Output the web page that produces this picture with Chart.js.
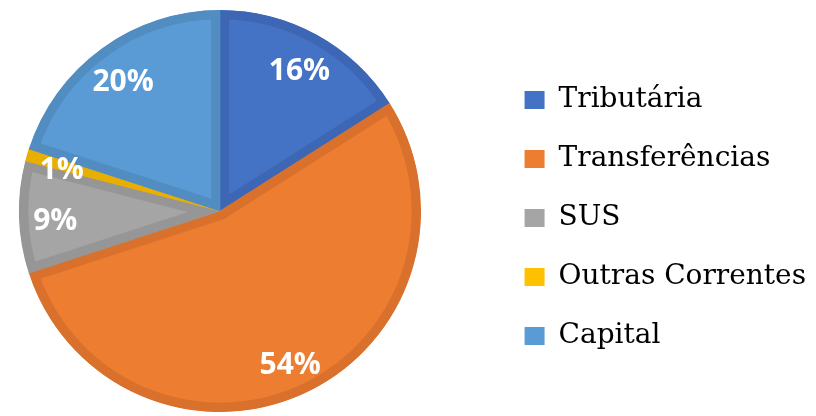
<!DOCTYPE html>
<html>
<head>
<meta charset="utf-8">
<script src="https://cdn.jsdelivr.net/npm/chart.js@4.4.1/dist/chart.umd.min.js"></script>
<style>
  html, body { margin: 0; padding: 0; background: #ffffff; }
  #wrap { width: 816px; height: 416px; }
</style>
</head>
<body>
<div id="wrap"><canvas id="receitaChart"></canvas></div>
<script>
const categories = ["Tributária", "Transferências", "SUS", "Outras Correntes", "Capital"];
const shares = [16, 54, 9, 1, 20];
const fillColors = ["#4472C4", "#ED7D31", "#A5A5A5", "#FFC000", "#5B9BD5"];
const edgeColors = ["#3D67B4", "#D9712C", "#969696", "#E8AE00", "#528DC2"];

// the legend on the right would push the pie to the middle of what is left,
// so the pie gets its own box on the left side
const pieBox = { left: 17, top: 10, right: 423, bottom: 412 };

const pieArea = {
  id: "pieArea",
  afterLayout(chart) {
    Object.assign(chart.chartArea, pieBox, {
      width: pieBox.right - pieBox.left,
      height: pieBox.bottom - pieBox.top
    });
  }
};

const sliceLabels = {
  id: "sliceLabels",
  afterDatasetsDraw(chart) {
    const { ctx } = chart;
    const meta = chart.getDatasetMeta(0);
    ctx.save();
    ctx.font = 'bold 30px "Open Sans", sans-serif';
    ctx.fillStyle = "#ffffff";
    ctx.textAlign = "center";
    ctx.textBaseline = "middle";
    meta.data.forEach((arc, i) => {
      const { x, y, startAngle, endAngle, outerRadius } = arc.getProps(
        ["x", "y", "startAngle", "endAngle", "outerRadius"],
        true
      );
      const mid = (startAngle + endAngle) / 2;
      const r = outerRadius * 0.82;
      ctx.fillText(`${shares[i]}%`, x + Math.cos(mid) * r, y + Math.sin(mid) * r + 5);
    });
    ctx.restore();
  }
};

new Chart(document.getElementById("receitaChart").getContext("2d"), {
  type: "pie",
  data: {
    labels: categories,
    datasets: [
      {
        data: shares,
        backgroundColor: fillColors,
        borderColor: edgeColors,
        borderWidth: 9,
        borderAlign: "inner"
      }
    ]
  },
  options: {
    responsive: true,
    maintainAspectRatio: false,
    animation: false,
    layout: { padding: { top: 21, bottom: 1, left: 0, right: 0 } },
    plugins: {
      tooltip: { enabled: false },
      legend: {
        position: "right",
        align: "center",
        labels: {
          boxWidth: 20,
          boxHeight: 18,
          padding: 31,
          color: "#0d0d0d",
          font: { family: '"DejaVu Serif", serif', size: 28 },
          generateLabels: () =>
            categories.map((label, i) => ({
              text: label,
              fillStyle: fillColors[i],
              strokeStyle: fillColors[i],
              lineWidth: 0,
              index: i
            }))
        }
      }
    }
  },
  plugins: [pieArea, sliceLabels]
});
</script>
</body>
</html>
